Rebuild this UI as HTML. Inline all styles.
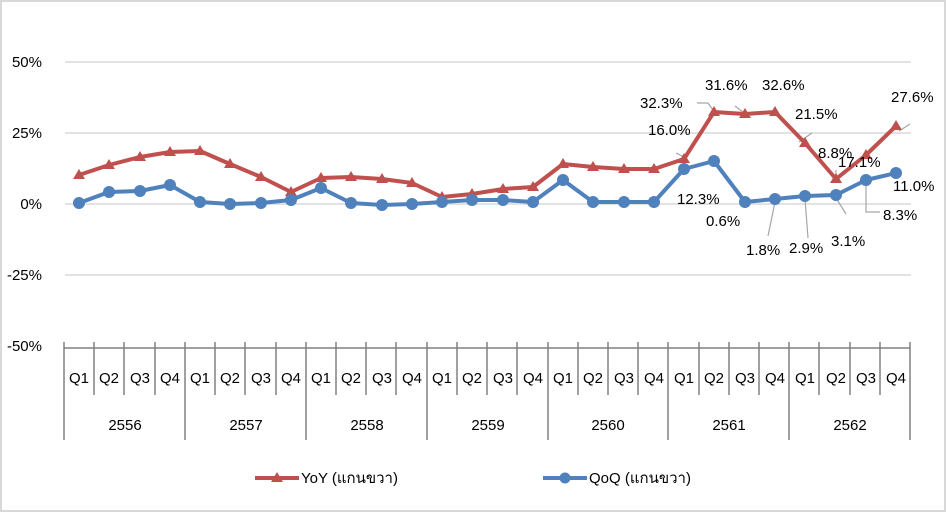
<!DOCTYPE html>
<html><head><meta charset="utf-8"><style>
body{margin:0;background:#fff}
text{font-family:"Liberation Sans",Arial,sans-serif;font-size:15px;fill:#000}
</style></head><body>
<svg width="947" height="513" viewBox="0 0 947 513" xmlns="http://www.w3.org/2000/svg">
<rect x="1" y="1" width="944" height="510" fill="#fff" stroke="#d9d9d9" stroke-width="2"/>
<g stroke="#d9d9d9" stroke-width="1.5">
<line x1="65" y1="62" x2="911" y2="62"/><line x1="65" y1="133" x2="911" y2="133"/>
<line x1="65" y1="204" x2="911" y2="204"/><line x1="65" y1="275" x2="911" y2="275"/>
</g>
<g text-anchor="end">
<text x="42" y="67">50%</text><text x="42" y="138">25%</text><text x="42" y="209">0%</text>
<text x="42" y="280">-25%</text><text x="42" y="351">-50%</text>
</g>
<g stroke="#808080" stroke-width="1.5">
<line x1="64" y1="348" x2="910" y2="348"/>
<path d="M64 342V440M94 342V395M124 342V395M155 342V395M185 342V440M215 342V395M245 342V395M276 342V395M306 342V440M336 342V395M366 342V395M396 342V395M427 342V440M457 342V395M487 342V395M517 342V395M548 342V440M578 342V395M608 342V395M638 342V395M668 342V440M699 342V395M729 342V395M759 342V395M789 342V440M819 342V395M850 342V395M880 342V395M910 342V440"/>
</g>
<g text-anchor="middle">
<text x="79" y="383">Q1</text><text x="109" y="383">Q2</text><text x="140" y="383">Q3</text><text x="170" y="383">Q4</text>
<text x="200" y="383">Q1</text><text x="230" y="383">Q2</text><text x="261" y="383">Q3</text><text x="291" y="383">Q4</text>
<text x="321" y="383">Q1</text><text x="351" y="383">Q2</text><text x="382" y="383">Q3</text><text x="412" y="383">Q4</text>
<text x="442" y="383">Q1</text><text x="472" y="383">Q2</text><text x="503" y="383">Q3</text><text x="533" y="383">Q4</text>
<text x="563" y="383">Q1</text><text x="593" y="383">Q2</text><text x="624" y="383">Q3</text><text x="654" y="383">Q4</text>
<text x="684" y="383">Q1</text><text x="714" y="383">Q2</text><text x="745" y="383">Q3</text><text x="775" y="383">Q4</text>
<text x="805" y="383">Q1</text><text x="836" y="383">Q2</text><text x="866" y="383">Q3</text><text x="896" y="383">Q4</text>
<text x="125" y="430">2556</text><text x="246" y="430">2557</text><text x="367" y="430">2558</text><text x="488" y="430">2559</text>
<text x="608" y="430">2560</text><text x="729" y="430">2561</text><text x="850" y="430">2562</text>
</g>
<defs>
<marker id="tri" viewBox="0 0 12 12" refX="6" refY="7" markerWidth="12" markerHeight="12" markerUnits="userSpaceOnUse"><path d="M6 1L12 11H0Z" fill="#c0504d"/></marker>
<marker id="cir" viewBox="0 0 12 12" refX="6" refY="6" markerWidth="12" markerHeight="12" markerUnits="userSpaceOnUse"><circle cx="6" cy="6" r="6" fill="#4f81bd"/></marker>
</defs>
<g stroke="#a6a6a6" stroke-width="1.2" fill="none">
<path d="M697 103H708L713 110"/><path d="M735 106L744 113"/><path d="M799 142L812 133"/>
<path d="M676 153L684 157"/><path d="M836 178V170"/><path d="M899 131L910 124"/>
<path d="M775 202L768 236"/><path d="M805 199L808 238"/><path d="M836 198L846 214"/><path d="M866 182V212H880"/>
</g>
<polyline fill="none" stroke="#c0504d" stroke-width="4" stroke-linejoin="round" marker-start="url(#tri)" marker-mid="url(#tri)" marker-end="url(#tri)"
points="79,175 109,165 140,157 170,152 200,151 230,164 261,177 291,192 321,178 351,177 382,179 412,183 442,197 472,194 503,189 533,187 563,164 593,167 624,169 654,169 684,159 714,112 745,114 775,112 805,143 836,179 866,155 896,126"/>
<polyline fill="none" stroke="#4f81bd" stroke-width="4" stroke-linejoin="round" marker-start="url(#cir)" marker-mid="url(#cir)" marker-end="url(#cir)"
points="79,203 109,192 140,191 170,185 200,202 230,204 261,203 291,200 321,188 351,203 382,205 412,204 442,202 472,200 503,200 533,202 563,180 593,202 624,202 654,202 684,169 714,161 745,202 775,199 805,196 836,195 866,180 896,173"/>
<text x="640" y="108">32.3%</text><text x="705" y="90">31.6%</text><text x="762" y="90">32.6%</text>
<text x="795" y="119">21.5%</text><text x="648" y="135">16.0%</text><text x="818" y="158">8.8%</text>
<text x="838" y="167">17.1%</text><text x="891" y="102">27.6%</text><text x="893" y="191">11.0%</text>
<text x="677" y="204">12.3%</text><text x="706" y="226">0.6%</text><text x="746" y="255">1.8%</text>
<text x="789" y="253">2.9%</text><text x="831" y="246">3.1%</text><text x="883" y="220">8.3%</text>
<line x1="255" y1="478" x2="299" y2="478" stroke="#c0504d" stroke-width="4"/><path d="M277 472L283 482H271Z" fill="#c0504d"/>
<text x="301" y="483">YoY (แกนขวา)</text>
<line x1="543" y1="478" x2="587" y2="478" stroke="#4f81bd" stroke-width="4"/><circle cx="565" cy="478" r="5.5" fill="#4f81bd"/>
<text x="589" y="483">QoQ (แกนขวา)</text>
</svg>
</body></html>
